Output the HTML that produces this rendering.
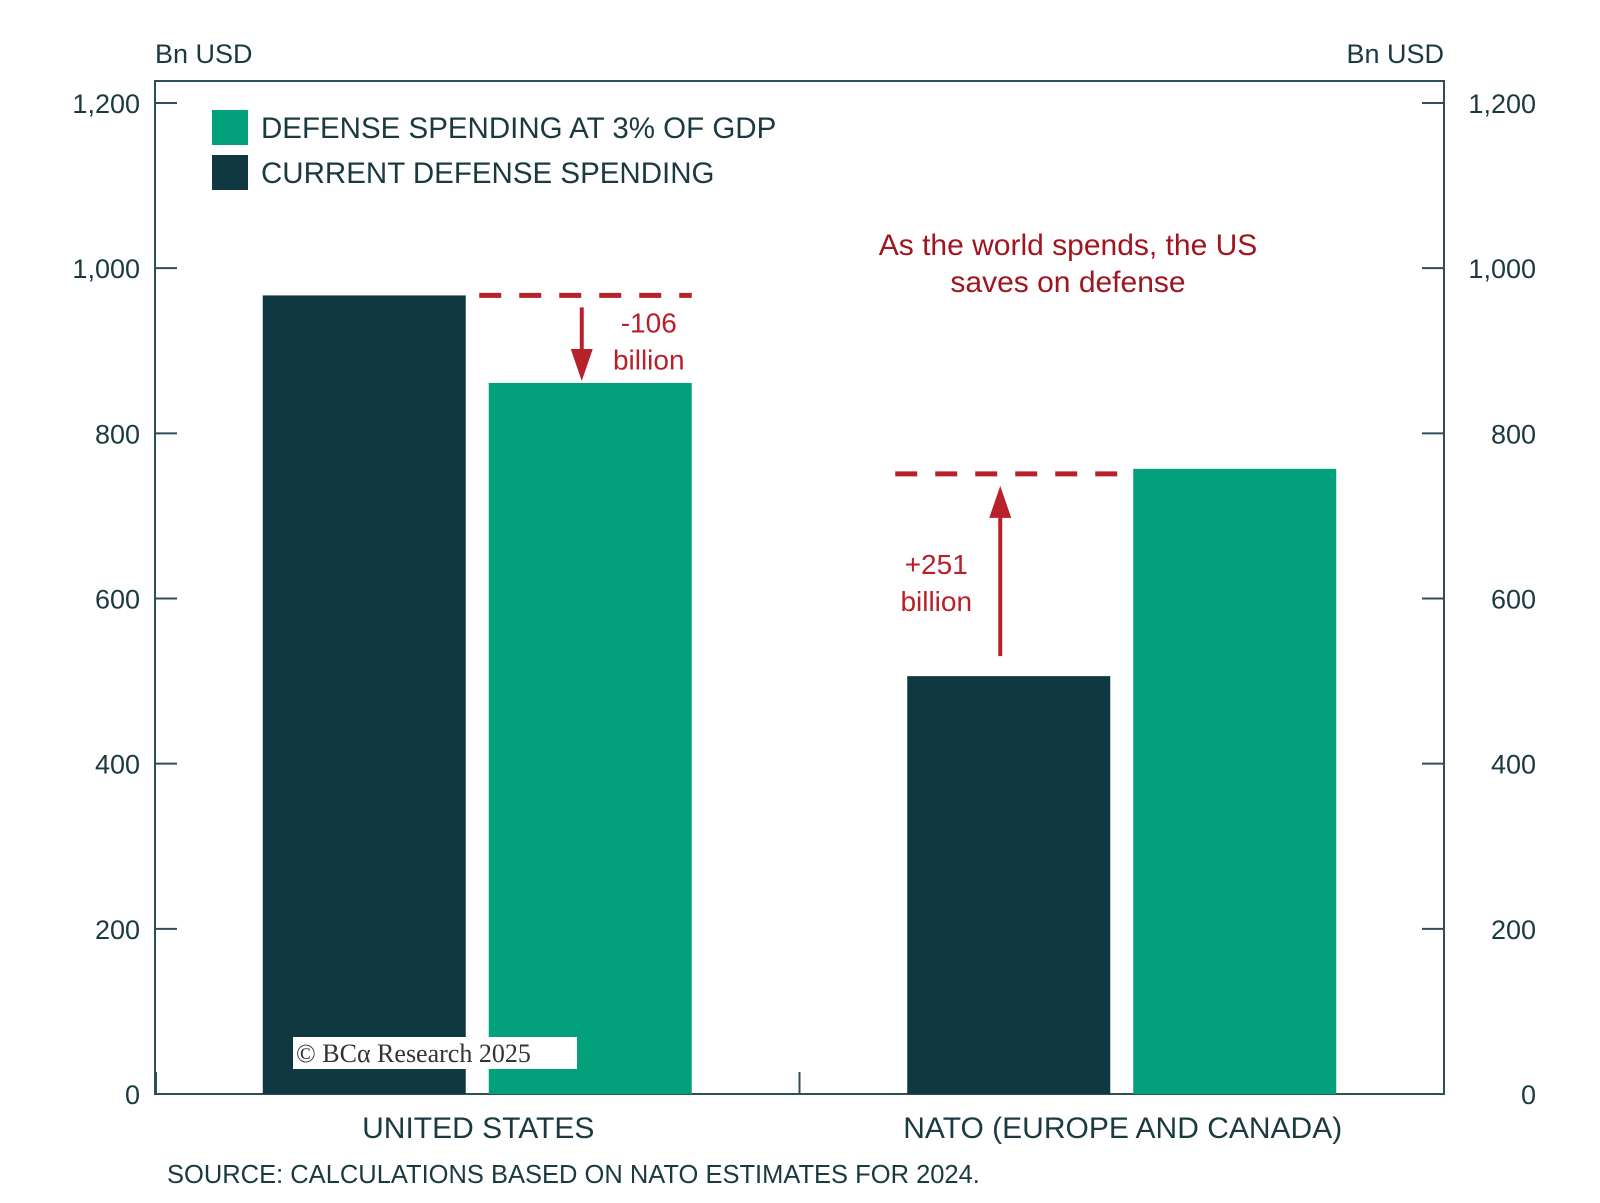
<!DOCTYPE html>
<html><head><meta charset="utf-8"><style>
body{margin:0;background:#fff;}
svg{display:block;font-family:"Liberation Sans",sans-serif;}
</style></head><body>
<svg id="chart" width="1600" height="1203" viewBox="0 0 1600 1203">
<text x="155" y="63" font-size="27" fill="#1a3a40">Bn USD</text>
<text x="1444" y="63" font-size="27" fill="#1a3a40" text-anchor="end">Bn USD</text>
<g id="axes"></g>
<g id="bars"></g>
<rect x="212" y="110" width="36" height="35" fill="#03a07c"/>
<text x="261" y="138" font-size="29.5" fill="#1a3a40">DEFENSE SPENDING AT 3% OF GDP</text>
<rect x="212" y="155" width="36" height="35" fill="#0f3840"/>
<text x="261" y="183" font-size="29.5" fill="#1a3a40">CURRENT DEFENSE SPENDING</text>
<text x="1068" y="255" font-size="30" fill="#a01520" text-anchor="middle">As the world spends, the US</text>
<text x="1068" y="292" font-size="30" fill="#a01520" text-anchor="middle">saves on defense</text>
<g id="annot"></g>
<rect x="293" y="1037" width="284" height="32" fill="#fff"/>
<text x="296" y="1062" font-size="26" fill="#333" font-family="Liberation Serif,serif">© BCα Research 2025</text>
<text x="167" y="1183" font-size="25.5" fill="#1a3a40">SOURCE: CALCULATIONS BASED ON NATO ESTIMATES FOR 2024.</text>
</svg>
<script>
const categories = ["UNITED STATES", "NATO (EUROPE AND CANADA)"];
const currentSpending = [967, 506];
const spending3pct = [861, 757];
const ticks = [0, 200, 400, 600, 800, 1000, 1200];
const tickLabels = ["0", "200", "400", "600", "800", "1,000", "1,200"];

const NS = "http://www.w3.org/2000/svg";
const L = 155, R = 1444, T = 81, B = 1094, YTOP = 103;
const y = v => B - (v / 1200) * (B - YTOP);
const catW = (R - L) / categories.length;
const catX = i => L + catW * i;
function mk(tag, attrs, parent, txt) {
  const e = document.createElementNS(NS, tag);
  for (const k in attrs) e.setAttribute(k, attrs[k]);
  if (txt !== undefined) e.textContent = txt;
  parent.appendChild(e);
  return e;
}
const axes = document.getElementById("axes");
const frame = mk("rect", {x: L, y: T, width: R - L, height: B - T, fill: "none", stroke: "#2e4f55", "stroke-width": 2}, axes);


ticks.forEach((t, i) => {
  const lt = mk("line", {x1: L, x2: L + 22, y1: y(t), y2: y(t), stroke: "#2e4f55", "stroke-width": 2}, axes);
  
  
  const rt = mk("line", {x1: R - 22, x2: R, y1: y(t), y2: y(t), stroke: "#2e4f55", "stroke-width": 2}, axes);
  
  
  const ll = mk("text", {x: 140, y: y(t) + 10, "font-size": 27, fill: "#1a3a40", "text-anchor": "end"}, axes, tickLabels[i]);
  
  
  const rl = mk("text", {x: 1536, y: y(t) + 10, "font-size": 27, fill: "#1a3a40", "text-anchor": "end"}, axes, tickLabels[i]);
  
  
});
for (let i = 0; i < categories.length; i++) {
  const ct = mk("line", {x1: catX(i) + (i ? 0 : 1), x2: catX(i) + (i ? 0 : 1), y1: B - 22, y2: B, stroke: "#2e4f55", "stroke-width": 2}, axes);
  
  
}
const bars = document.getElementById("bars");
const bw = 203, gap = 23;
categories.forEach((c, i) => {
  const cx = catX(i) + catW / 2;
  const b1 = mk("rect", {x: cx - gap / 2 - bw, y: y(currentSpending[i]), width: bw, height: B - y(currentSpending[i]), fill: "#0f3840"}, bars);
  
  
  const b2 = mk("rect", {x: cx + gap / 2, y: y(spending3pct[i]), width: bw, height: B - y(spending3pct[i]), fill: "#03a07c"}, bars);
  
  
  const lb = mk("text", {x: cx + 1, y: 1138, "font-size": 30, fill: "#1a3a40", "text-anchor": "middle"}, bars, c);
  
  
});
const an = document.getElementById("annot");
const red = "#b8202a";
categories.forEach((c, i) => {
  const cx = catX(i) + catW / 2;
  const diff = spending3pct[i] - currentSpending[i];
  const hi = Math.max(spending3pct[i], currentSpending[i]);
  const x1 = i === 0 ? cx + 2 : cx - gap / 2 - bw - 12;
  const x2 = i === 0 ? cx + gap / 2 + bw : cx + gap / 2 - 12;
  const dy = y(hi) + (i ? 5 : 0);
  const dl = mk("line", {x1: x1, x2: x2, y1: dy, y2: dy, stroke: red, "stroke-width": 5, "stroke-dasharray": "22 18"}, an);
  
  
  const ax = i === 0 ? cx + gap / 2 + 93 : cx - gap / 2 - 110;
  let ys, ye;
  if (diff < 0) { ys = dy + 12; ye = y(spending3pct[i]) - 2; }
  else { ys = y(currentSpending[i]) - 20; ye = dy + 12; }
  const dir = diff < 0 ? 1 : -1;
  const sh = mk("line", {x1: ax, x2: ax, y1: ys, y2: ye - dir * 20, stroke: red, "stroke-width": 4}, an);
  
  
  const hd = mk("polygon", {points: `${ax - 11},${ye - dir * 32} ${ax + 11},${ye - dir * 32} ${ax},${ye}`, fill: red}, an);
  
  
  const tx = i === 0 ? ax + 67 : ax - 64;
  const ty = i === 0 ? y(hi) + 37 : y(currentSpending[i]) - 102;
  const t1 = mk("text", {x: tx, y: ty, "font-size": 28, fill: red, "text-anchor": "middle"}, an, (diff > 0 ? "+" : "") + diff);
  
  
  const t2 = mk("text", {x: tx, y: ty + 37, "font-size": 28, fill: red, "text-anchor": "middle"}, an, "billion");
  
  
});
</script>
</body></html>
